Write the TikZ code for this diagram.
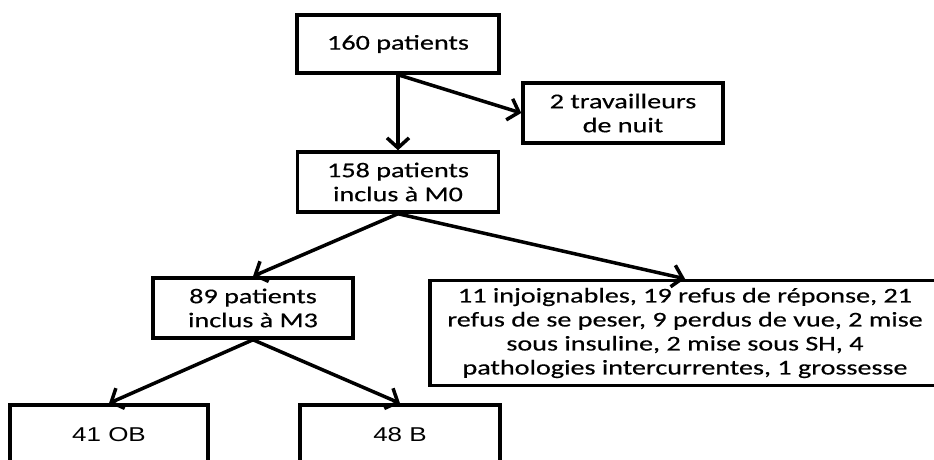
\documentclass[tikz,border=0pt]{standalone}
\usepackage{fontspec}
\setmainfont[FakeStretch=1.34,FakeBold=0.4]{Carlito}
\newfontfamily\arialfont[FakeStretch=1.3]{Liberation Sans}
\usetikzlibrary{arrows.meta}

\begin{document}
\begin{tikzpicture}[x=1pt,y=-1pt,
  box/.style={draw, line width=3.5pt, align=center, inner sep=2pt,
    font=\fontsize{21}{24}\selectfont},
  flow/.style={-{Straight Barb[length=10pt,width=22pt]}, line width=3.5pt}]
 \clip (0,0) rectangle (934,459);
 \fill[white] (0,0) rectangle (934,459);

 % first level
 \node[box, minimum width=202pt, minimum height=58pt] (total) at (398,44) {160 patients};
 \node[box, minimum width=200pt, minimum height=60pt] (night) at (623,113) {2 travailleurs\\de nuit};

 % inclusion M0
 \node[box, minimum width=201pt, minimum height=60pt] (incM0) at (398,182) {158 patients\\inclus à M0};

 % M3 and exclusions
 \node[box, minimum width=200pt, minimum height=60pt] (incM3) at (253,308) {89 patients\\inclus à M3};
 \node[box, minimum width=510pt, minimum height=105pt] (lost) at (685,333)
   {11 injoignables, 19 refus de réponse, 21\\refus de se peser, 9 perdus de vue, 2 mise\\sous insuline, 2 mise sous SH, 4\\pathologies intercurrentes, 1 grossesse};

 % groups
 \node[box, font=\arialfont\fontsize{20}{24}\selectfont, minimum width=198pt, minimum height=60pt] (ob) at (109,435) {41 OB};
 \node[box, font=\arialfont\fontsize{20}{24}\selectfont, minimum width=200pt, minimum height=60pt] (nob) at (400,435) {48 B};

 % arrows
 \draw[flow] (total.south) -- (incM0.north);
 \draw[flow] (total.south) -- (night.west);
 \draw[flow] (incM0.south) -- (incM3.north);
 \draw[flow] (incM0.south) -- (lost.north);
 \draw[flow] (incM3.south) -- (ob.north);
 \draw[flow] (incM3.south) -- (nob.north);

\end{tikzpicture}
\end{document}
